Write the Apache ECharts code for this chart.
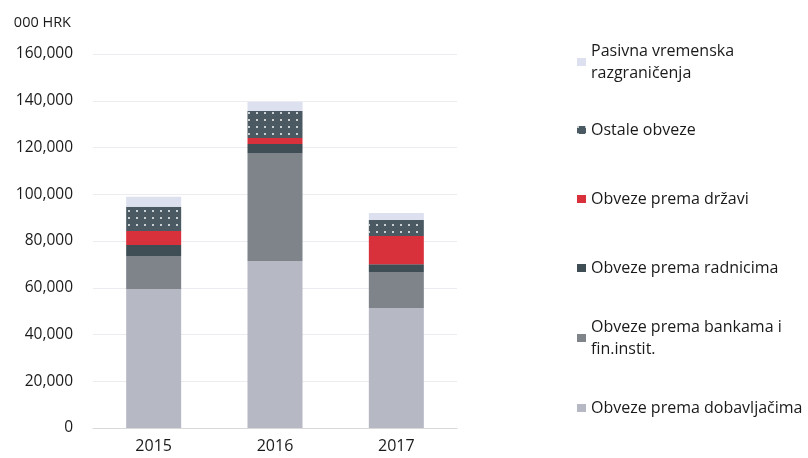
<!DOCTYPE html>
<html>
<head>
<meta charset="utf-8">
<script src="https://cdn.jsdelivr.net/npm/echarts@6/dist/echarts.min.js"></script>
<style>html,body{margin:0;padding:0;background:#fff}#c{width:808px;height:458px}</style>
</head>
<body>
<div id="c"></div>
<script>
const categories = ['2015', '2016', '2017'];
const unitLabel = '000 HRK';
const dobavljaci = [59500, 71400, 51300];
const banke = [14100, 46200, 15400];
const radnici = [4700, 3850, 3400];
const drzava = [6000, 2600, 12000];
const ostale = [10300, 11550, 6850];
const pasivna = [4300, 3850, 3000];
const names = [
  'Obveze prema dobavljačima',
  'Obveze prema bankama i\nfin.instit.',
  'Obveze prema radnicima',
  'Obveze prema državi',
  'Ostale obveze',
  'Pasivna vremenska\nrazgraničenja'
];
const values = [dobavljaci, banke, radnici, drzava, ostale, pasivna];
const colors = ['#b6b8c4', '#7f838a', '#3f4d55', '#d8313b', '#4b5a62', '#dde0ee'];
const legendCenters = [408, 338, 268, 199, 130, 62];

const FONT = 'Open Sans';
const chart = echarts.init(document.getElementById('c'), null, {renderer: 'canvas'});

const series = names.map((n, i) => ({
  name: n,
  type: 'bar',
  stack: 'total',
  barWidth: 55,
  data: values[i],
  itemStyle: Object.assign({color: colors[i]}, i === 4 ? {
    decal: {
      symbol: 'circle',
      symbolSize: 1,
      color: 'rgba(255,255,255,0.95)',
      dashArrayX: [2, 6],
      dashArrayY: [2, 5],
      rotation: 0
    }
  } : {}),
  emphasis: {disabled: true}
}));

const legends = names.map((n, i) => {
  const twoLine = n.indexOf('\n') >= 0;
  return {
    orient: 'vertical',
    left: 577,
    top: legendCenters[i] - (twoLine ? 33 : 11),
    padding: 0,
    itemWidth: 9,
    itemHeight: 8,
    icon: 'rect',
    selectedMode: false,
    data: [n],
    textStyle: {
      fontFamily: FONT,
      fontSize: 16,
      color: '#1a1a1a',
      lineHeight: 22,
      padding: twoLine ? [22, 0, 0, 0] : 0
    }
  };
});

chart.setOption({
  animation: false,
  backgroundColor: '#fff',
  grid: {left: 93, right: 351, top: 54, bottom: 30},
  legend: legends,
  xAxis: {
    type: 'category',
    data: categories,
    axisLine: {lineStyle: {color: '#d9d9d9', width: 1}},
    axisTick: {show: false},
    axisLabel: {fontFamily: FONT, fontSize: 16, color: '#1a1a1a', margin: 10}
  },
  yAxis: {
    type: 'value',
    min: 0,
    max: 160000,
    interval: 20000,
    name: unitLabel,
    nameLocation: 'end',
    nameGap: 24,
    nameTextStyle: {fontFamily: FONT, fontSize: 14.5, color: '#1a1a1a', align: 'right', padding: [0, 22, 0, 0]},
    axisLine: {show: false},
    axisTick: {show: false},
    splitLine: {lineStyle: {color: '#ebebf0'}},
    axisLabel: {
      fontFamily: FONT, fontSize: 15.5, color: '#1a1a1a', margin: 20,
      formatter: v => v.toLocaleString('en-US')
    }
  },
  series: series
});
</script>
</body>
</html>
